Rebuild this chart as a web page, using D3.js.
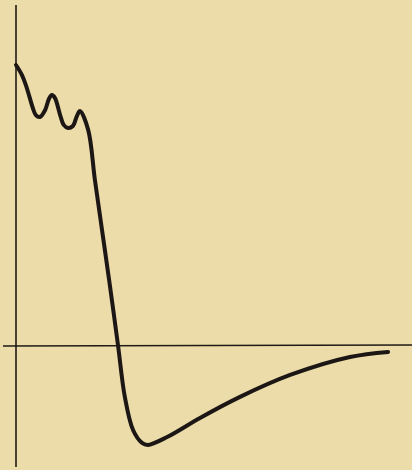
<!DOCTYPE html>
<html>
<head>
<meta charset="utf-8">
<script src="https://cdn.jsdelivr.net/npm/d3@7"></script>
<style>
  html, body { margin: 0; padding: 0; background: #ecdcaa; }
  svg { display: block; }
</style>
</head>
<body>
<script>
// curve, arbitrary units
let xs = [0, 1.6, 2.9, 4.5, 5.3, 6.4, 7.8, 8.8, 9.6, 10.4, 11.8, 12.8, 13.9, 15.2, 16.3, 17.1,
    19.3, 21.1, 23.0, 24.9, 27.3, 29.1, 31.3, 33.7, 35.3, 40.4, 49.2, 59.9,
    73.3, 89.3, 99.5];
let ys = [100, 96.4, 91.8, 84.7, 82.2, 81.5, 84.0, 87.9, 89.3, 88.3, 82.2, 78.6, 77.6, 78.3, 81.9, 83.6,
    76.9, 59.1, 41.3, 23.5, 0, -18.1, -29.9, -34.5, -35.2, -32.4, -25.6, -18.1,
    -10.3, -3.9, -2.1];

let width = 412,
    height = 470;

let svg = d3.select('body').append('svg')
    .attr('width', width)
    .attr('height', height);

let x = d3.scaleLinear()
    .domain([0, 100])
    .range([16, 390]);

let y = d3.scaleLinear()
    .domain([0, 100])
    .range([346, 65]);

// axes: plain crossing lines, no ticks
svg.append('line')
    .attr('x1', x(0)).attr('x2', x(0))
    .attr('y1', 5).attr('y2', 467)
    .style('stroke', '#1e1a16')
    .style('stroke-width', 1.6);

svg.append('line')
    .attr('x1', 3).attr('x2', width)
    .attr('y1', y(0)).attr('y2', y(0) - 1)
    .style('stroke', '#1e1a16')
    .style('stroke-width', 1.6);

let line = d3.line()
    .x(d => x(d[0]))
    .y(d => y(d[1]))
    .curve(d3.curveCatmullRom.alpha(0.5));

svg.append('path')
    .datum(d3.zip(xs, ys))
    .attr('d', line)
    .style('fill', 'none')
    .style('stroke', '#1c1714')
    .style('stroke-width', 4)
    .style('stroke-linecap', 'round')
    .style('stroke-linejoin', 'round');
</script>
</body>
</html>
